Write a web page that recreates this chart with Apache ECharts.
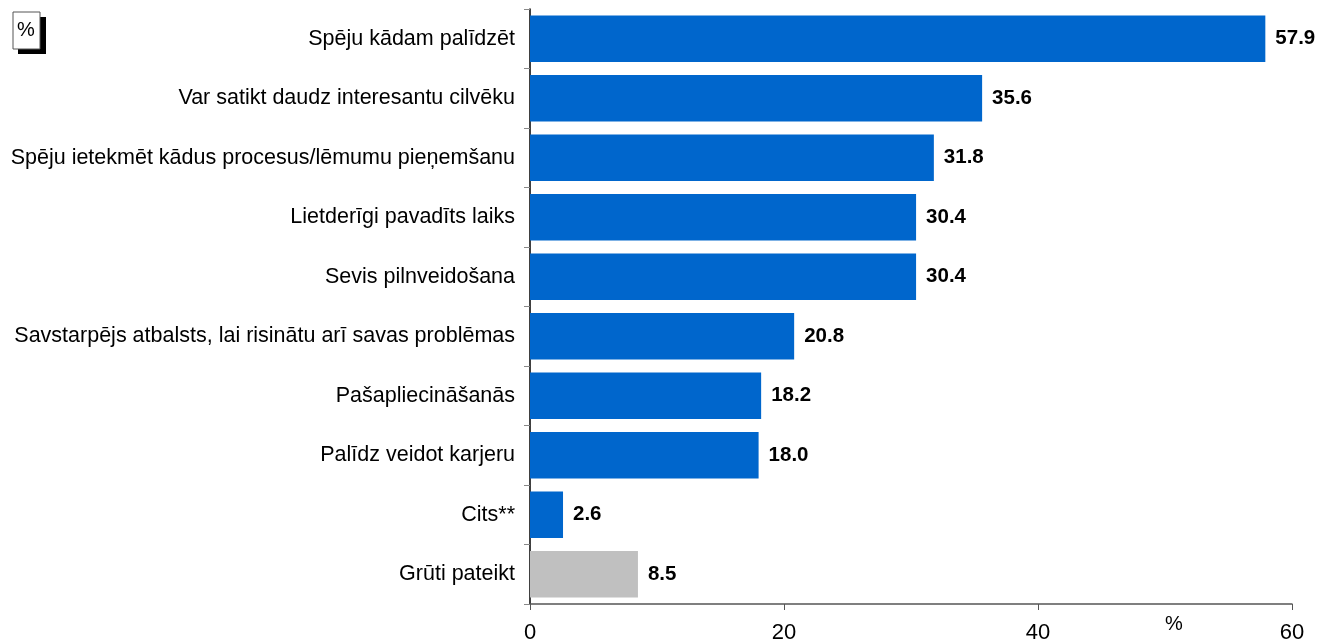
<!DOCTYPE html>
<html>
<head>
<meta charset="utf-8">
<script src="https://cdn.jsdelivr.net/npm/echarts@6/dist/echarts.min.js"></script>
<style>
  html, body { margin: 0; padding: 0; background: #fff; }
  #main { width: 1318px; height: 644px; }
</style>
</head>
<body>
<div id="main"></div>
<script>
// kategorijas un vērtības (%)
const categories = [
  'Spēju kādam palīdzēt',
  'Var satikt daudz interesantu cilvēku',
  'Spēju ietekmēt kādus procesus/lēmumu pieņemšanu',
  'Lietderīgi pavadīts laiks',
  'Sevis pilnveidošana',
  'Savstarpējs atbalsts, lai risinātu arī savas problēmas',
  'Pašapliecināšanās',
  'Palīdz veidot karjeru',
  'Cits**',
  'Grūti pateikt'
]
const values = [57.9, 35.6, 31.8, 30.4, 30.4, 20.8, 18.2, 18.0, 2.6, 8.5]
const xTicks = [0, 20, 40, 60]

const BLUE = '#0066CC'
const GREY = '#C0C0C0'

const chart = echarts.init(document.getElementById('main'))

const option = {
  animation: false,
  grid: { left: 530, right: 26, top: 9, bottom: 39 },
  xAxis: {
    type: 'value',
    min: xTicks[0],
    max: xTicks[xTicks.length - 1],
    interval: 20,
    splitLine: { show: false },
    axisLine: { show: true, lineStyle: { color: '#555', width: 1.5 } },
    axisTick: { show: true, length: 6, lineStyle: { color: '#555' } },
    axisLabel: {
      margin: 18,
      color: '#000',
      fontFamily: 'Liberation Sans',
      fontSize: 22
    }
  },
  yAxis: {
    type: 'category',
    inverse: true,
    data: categories,
    axisLine: { show: true, lineStyle: { color: '#000', width: 1.5 } },
    axisTick: { show: true, length: 6, lineStyle: { color: '#888' } },
    axisLabel: {
      margin: 15,
      color: '#000',
      fontFamily: 'Liberation Sans',
      fontSize: 21.5
    }
  },
  series: [
    {
      type: 'bar',
      barCategoryGap: '22%',
      data: values.map((v, i) => ({
        value: v,
        itemStyle: { color: i === values.length - 1 ? GREY : BLUE }
      })),
      label: {
        show: true,
        position: 'right',
        distance: 10,
        color: '#000',
        fontWeight: 'bold',
        fontFamily: 'Liberation Sans',
        fontSize: 20.5,
        formatter: p => p.value.toFixed(1)
      }
    }
  ],
  graphic: [
    // "%" ikona ar ēnu augšējā kreisajā stūrī
    { type: 'rect', shape: { x: 18, y: 17, width: 28, height: 37 }, style: { fill: '#000' } },
    { type: 'rect', shape: { x: 13, y: 12, width: 27, height: 37 }, style: { fill: '#fff', stroke: '#555', lineWidth: 1 } },
    { type: 'text', style: { x: 26, y: 30, text: '%', fill: '#000', font: '20px Liberation Sans', align: 'center', verticalAlign: 'middle' } },
    // ass mērvienība
    { type: 'text', style: { x: 1174, y: 624, text: '%', fill: '#000', font: '20px Liberation Sans', align: 'center', verticalAlign: 'middle' } }
  ]
}

chart.setOption(option)
</script>
</body>
</html>
